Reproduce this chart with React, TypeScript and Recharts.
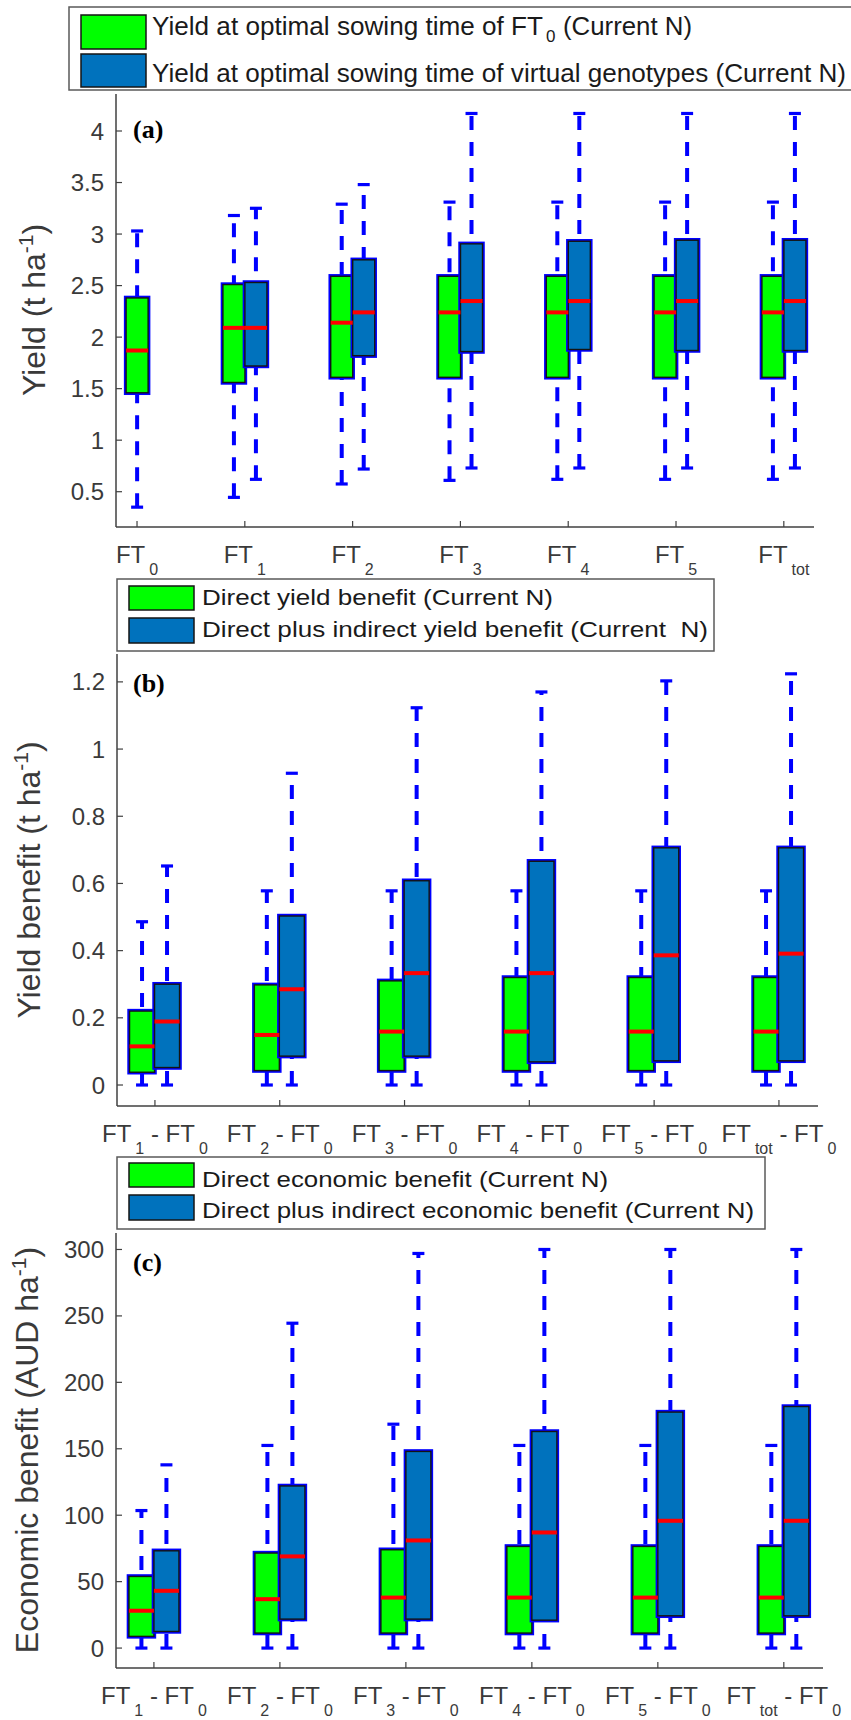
import React from "react";
import { Bar, ComposedChart, XAxis, YAxis } from "recharts";

const SANS = "'Liberation Sans', Arial, Helvetica, sans-serif";
const SERIF = "'Liberation Serif', 'Times New Roman', serif";
const GREEN = "#00ff00";
const BLUE = "#0072bd";
const WHISK = "#0000ff";
const MED = "#ff0000";
const AXIS = "#404040";
const TEXT = "#3a3a3a";

// (a) yield at optimal sowing time (t/ha)
const ftA = ["0", "1", "2", "3", "4", "5", "tot"];
const ft0Stats = [0.35, 1.46, 1.87, 2.38, 3.03]; // min, q1, median, q3, max
const aGreenMin = [0.445, 0.575, 0.61, 0.62, 0.62, 0.62];
const aGreenQ1 = [1.56, 1.61, 1.61, 1.61, 1.61, 1.61];
const aGreenMed = [2.09, 2.14, 2.24, 2.24, 2.24, 2.24];
const aGreenQ3 = [2.51, 2.59, 2.59, 2.59, 2.59, 2.59];
const aGreenMax = [3.18, 3.29, 3.31, 3.31, 3.31, 3.31];
const aBlueMin = [0.62, 0.72, 0.73, 0.73, 0.73, 0.73];
const aBlueQ1 = [1.72, 1.82, 1.86, 1.88, 1.87, 1.87];
const aBlueMed = [2.09, 2.24, 2.35, 2.35, 2.35, 2.35];
const aBlueQ3 = [2.53, 2.75, 2.905, 2.93, 2.94, 2.94];
const aBlueMax = [3.25, 3.48, 4.17, 4.17, 4.17, 4.17];
const aTicks = [0.5, 1, 1.5, 2, 2.5, 3, 3.5, 4];

// (b) yield benefit (t/ha)
const ftDiff = ["1", "2", "3", "4", "5", "tot"];
const bGreenMin = [0, 0, 0, 0, 0, 0];
const bGreenQ1 = [0.038, 0.043, 0.043, 0.043, 0.043, 0.043];
const bGreenMed = [0.115, 0.149, 0.159, 0.159, 0.159, 0.159];
const bGreenQ3 = [0.22, 0.298, 0.31, 0.32, 0.32, 0.32];
const bGreenMax = [0.486, 0.578, 0.578, 0.578, 0.578, 0.578];
const bBlueMin = [0, 0, 0, 0, 0, 0];
const bBlueQ1 = [0.052, 0.086, 0.086, 0.069, 0.072, 0.072];
const bBlueMed = [0.189, 0.285, 0.333, 0.333, 0.386, 0.391];
const bBlueQ3 = [0.3, 0.503, 0.608, 0.666, 0.706, 0.706];
const bBlueMax = [0.652, 0.928, 1.123, 1.17, 1.203, 1.224];
const bTicks = [0, 0.2, 0.4, 0.6, 0.8, 1, 1.2];

// (c) economic benefit (AUD/ha)
const cGreenMin = [0, 0, 0, 0, 0, 0];
const cGreenQ1 = [8.8, 11.3, 11.3, 11.3, 11.3, 11.3];
const cGreenMed = [28.1, 36.8, 38, 38, 38, 38];
const cGreenQ3 = [53.9, 71.5, 74, 76.5, 76.5, 76.5];
const cGreenMax = [103.5, 152.5, 168.5, 152.5, 152.5, 152.5];
const cBlueMin = [0, 0, 0, 0, 0, 0];
const cBlueQ1 = [12.5, 21.8, 21.8, 21, 24.3, 24.3];
const cBlueMed = [43.1, 69, 81, 87, 95.8, 95.8];
const cBlueQ3 = [73.2, 122, 148, 163, 177.6, 181.8];
const cBlueMax = [137.9, 244.5, 297, 300, 300, 300];
const cTicks = [0, 50, 100, 150, 200, 250, 300];

type Stats = { min: number; q1: number; med: number; q3: number; max: number };
type Row = { pos: number; solo: Stats | null; g: Stats | null; b: Stats | null };

const pick = (mn: number[], q1: number[], md: number[], q3: number[], mx: number[], i: number): Stats => ({
  min: mn[i],
  q1: q1[i],
  med: md[i],
  q3: q3[i],
  max: mx[i],
});

const rowsA: Row[] = ftA.map((_, i) => ({
  pos: i + 1,
  solo: i === 0 ? pick([ft0Stats[0]], [ft0Stats[1]], [ft0Stats[2]], [ft0Stats[3]], [ft0Stats[4]], 0) : null,
  g: i > 0 ? pick(aGreenMin, aGreenQ1, aGreenMed, aGreenQ3, aGreenMax, i - 1) : null,
  b: i > 0 ? pick(aBlueMin, aBlueQ1, aBlueMed, aBlueQ3, aBlueMax, i - 1) : null,
}));

const rowsB: Row[] = ftDiff.map((_, i) => ({
  pos: i + 1,
  solo: null,
  g: pick(bGreenMin, bGreenQ1, bGreenMed, bGreenQ3, bGreenMax, i),
  b: pick(bBlueMin, bBlueQ1, bBlueMed, bBlueQ3, bBlueMax, i),
}));

const rowsC: Row[] = ftDiff.map((_, i) => ({
  pos: i + 1,
  solo: null,
  g: pick(cGreenMin, cGreenQ1, cGreenMed, cGreenQ3, cGreenMax, i),
  b: pick(cBlueMin, cBlueQ1, cBlueMed, cBlueQ3, cBlueMax, i),
}));

type Key = "solo" | "g" | "b";

const span = (key: Key, lo: keyof Stats, hi: keyof Stats) => (d: Row) => {
  const s = d[key];
  return s ? [s[lo], s[hi]] : null;
};

const whiskerShape = (key: Key) => (p: any) => {
  if (!p.payload || !p.payload[key]) return <g />;
  const cx = p.x + p.width / 2;
  const top = Math.min(p.y, p.y + p.height);
  const bot = Math.max(p.y, p.y + p.height);
  return (
    <g>
      <line x1={cx} x2={cx} y1={bot} y2={top} stroke={WHISK} strokeWidth={4} strokeDasharray="14 12" />
      <line x1={cx - 6} x2={cx + 6} y1={top} y2={top} stroke={WHISK} strokeWidth={3.2} />
      <line x1={cx - 6} x2={cx + 6} y1={bot} y2={bot} stroke={WHISK} strokeWidth={3.2} />
    </g>
  );
};

const boxShape = (key: Key, fill: string) => (p: any) => {
  if (!p.payload || !p.payload[key]) return <g />;
  const top = Math.min(p.y, p.y + p.height);
  const h = Math.abs(p.height);
  return (
    <g>
      <rect x={p.x - 1} y={top - 1} width={p.width + 2} height={h + 2} fill="none" stroke={WHISK} strokeWidth={2.5} />
      <rect x={p.x} y={top} width={p.width} height={h} fill={fill} stroke="#141414" strokeWidth={1.4} />
    </g>
  );
};

// bar spans q1..median, so its top edge sits on the median
const medianShape = (key: Key) => (p: any) => {
  if (!p.payload || !p.payload[key]) return <g />;
  return <line x1={p.x} x2={p.x + p.width} y1={p.y} y2={p.y} stroke={MED} strokeWidth={4} />;
};

function FtTick(props: any) {
  const { x, y, payload, subs, diff } = props;
  const sub = subs[Math.round(payload.value) - 1];
  if (sub === undefined) return <g />;
  return (
    <text x={x} y={y + 36} textAnchor="middle" fill={TEXT} fontFamily={SANS} fontSize={24} style={{ whiteSpace: "pre" }}>
      <tspan>FT</tspan>
      <tspan dx={4} dy={12} fontSize={16}>{sub}</tspan>
      {diff ? <tspan dy={-12}> - FT</tspan> : null}
      {diff ? <tspan dx={4} dy={12} fontSize={16}>0</tspan> : null}
    </text>
  );
}

interface PanelProps {
  rows: Row[];
  top: number;
  height: number;
  margin: { top: number; right: number; bottom: number; left: number };
  xDomain: [number, number];
  yDomain: [number, number];
  yTicks: number[];
  barSize: number;
  subs: string[];
  diff: boolean;
}

function Panel({ rows, top, height, margin, xDomain, yDomain, yTicks, barSize, subs, diff }: PanelProps) {
  const xTicks = rows.map((r) => r.pos);
  const xCommon = {
    type: "number" as const,
    dataKey: "pos",
    domain: xDomain,
    ticks: xTicks,
    allowDataOverflow: true,
    interval: 0 as const,
  };
  const hasSolo = rows.some((r) => r.solo);
  return (
    <div style={{ position: "absolute", left: 0, top }}>
      <ComposedChart width={851} height={height} data={rows} margin={margin} barGap={0}>
        <XAxis
          xAxisId="main"
          {...xCommon}
          orientation="bottom"
          height={40}
          tickSize={-6}
          tickMargin={6}
          axisLine={{ stroke: AXIS, strokeWidth: 1.5 }}
          tickLine={{ stroke: AXIS, strokeWidth: 1.2 }}
          tick={(p: any) => <FtTick {...p} subs={subs} diff={diff} />}
        />
        <XAxis
          xAxisId="top"
          {...xCommon}
          orientation="top"
          height={0}
          tickSize={-6}
          tick={false}
          axisLine={{ stroke: AXIS, strokeWidth: 1.5 }}
          tickLine={{ stroke: AXIS, strokeWidth: 1.2 }}
        />
        <XAxis xAxisId="whisk" {...xCommon} hide />
        <XAxis xAxisId="med" {...xCommon} hide />
        {hasSolo ? <XAxis xAxisId="soloW" {...xCommon} hide /> : null}
        {hasSolo ? <XAxis xAxisId="soloB" {...xCommon} hide /> : null}
        {hasSolo ? <XAxis xAxisId="soloM" {...xCommon} hide /> : null}
        <YAxis
          yAxisId="l"
          domain={yDomain}
          ticks={yTicks}
          allowDataOverflow
          interval={0}
          width={60}
          tickSize={-6}
          tickMargin={18}
          axisLine={{ stroke: AXIS, strokeWidth: 1.5 }}
          tickLine={{ stroke: AXIS, strokeWidth: 1.2 }}
          tick={{ fill: TEXT, fontSize: 24, fontFamily: SANS }}
        />
        <YAxis
          yAxisId="r"
          orientation="right"
          domain={yDomain}
          ticks={yTicks}
          allowDataOverflow
          interval={0}
          width={0}
          tickSize={-6}
          tick={false}
          axisLine={{ stroke: AXIS, strokeWidth: 1.5 }}
          tickLine={{ stroke: AXIS, strokeWidth: 1.2 }}
        />

        {hasSolo ? (
          <Bar xAxisId="soloW" yAxisId="l" dataKey={span("solo", "min", "max")} barSize={barSize} shape={whiskerShape("solo")} isAnimationActive={false} />
        ) : null}
        <Bar xAxisId="whisk" yAxisId="l" dataKey={span("g", "min", "max")} barSize={barSize} shape={whiskerShape("g")} isAnimationActive={false} />
        <Bar xAxisId="whisk" yAxisId="l" dataKey={span("b", "min", "max")} barSize={barSize} shape={whiskerShape("b")} isAnimationActive={false} />

        {hasSolo ? (
          <Bar xAxisId="soloB" yAxisId="l" dataKey={span("solo", "q1", "q3")} barSize={barSize} shape={boxShape("solo", GREEN)} isAnimationActive={false} />
        ) : null}
        <Bar xAxisId="main" yAxisId="l" dataKey={span("g", "q1", "q3")} barSize={barSize} shape={boxShape("g", GREEN)} isAnimationActive={false} />
        <Bar xAxisId="main" yAxisId="l" dataKey={span("b", "q1", "q3")} barSize={barSize} shape={boxShape("b", BLUE)} isAnimationActive={false} />

        {hasSolo ? (
          <Bar xAxisId="soloM" yAxisId="l" dataKey={span("solo", "q1", "med")} barSize={barSize} shape={medianShape("solo")} isAnimationActive={false} />
        ) : null}
        <Bar xAxisId="med" yAxisId="l" dataKey={span("g", "q1", "med")} barSize={barSize} shape={medianShape("g")} isAnimationActive={false} />
        <Bar xAxisId="med" yAxisId="l" dataKey={span("b", "q1", "med")} barSize={barSize} shape={medianShape("b")} isAnimationActive={false} />
      </ComposedChart>
    </div>
  );
}

function LegendBox(props: {
  x: number; y: number; w: number; h: number;
  sw: [number, number][];
  lines: React.ReactNode[];
}) {
  const { x, y, w, h, sw, lines } = props;
  return (
    <g>
      <rect x={x} y={y} width={w} height={h} fill="#fff" stroke="#5a5a5a" strokeWidth={1.5} />
      <rect x={x + 12} y={sw[0][0]} width={65} height={sw[0][1]} fill={GREEN} stroke="#141414" strokeWidth={1.5} />
      <rect x={x + 12} y={sw[1][0]} width={65} height={sw[1][1]} fill={BLUE} stroke="#141414" strokeWidth={1.5} />
      {lines}
    </g>
  );
}

function YTitle({ x, y, main, unit }: { x: number; y: number; main: string; unit: string }) {
  return (
    <text
      x={x}
      y={y}
      transform={`rotate(-90 ${x} ${y})`}
      textAnchor="middle"
      fill={TEXT}
      fontFamily={SANS}
      fontSize={32}
      style={{ whiteSpace: "pre" }}
    >
      <tspan>{main + " (" + unit + " ha"}</tspan>
      <tspan dy={-12} fontSize={21}>-1</tspan>
      <tspan dy={12}>)</tspan>
    </text>
  );
}

const lt = { fill: "#1a1a1a", fontFamily: SANS, lengthAdjust: "spacingAndGlyphs" as const };

export default function App() {
  return (
    <div style={{ position: "absolute", left: 0, top: 0, width: 851, height: 1720, background: "#fff", overflow: "hidden" }}>
      <Panel
        rows={rowsA}
        top={0}
        height={592}
        margin={{ top: 94, right: 37, bottom: 25, left: 56 }}
        xDomain={[0.805, 7.28]}
        yDomain={[0.1575, 4.359]}
        yTicks={aTicks}
        barSize={22}
        subs={ftA}
        diff={false}
      />
      <Panel
        rows={rowsB}
        top={575}
        height={592}
        margin={{ top: 79, right: 33, bottom: 21, left: 57 }}
        xDomain={[0.696, 6.313]}
        yDomain={[-0.0625, 1.283]}
        yTicks={bTicks}
        barSize={25}
        subs={ftDiff}
        diff
      />
      <Panel
        rows={rowsC}
        top={1155}
        height={565}
        margin={{ top: 78, right: 28, bottom: 12, left: 56 }}
        xDomain={[0.699, 6.311]}
        yDomain={[-15, 312.4]}
        yTicks={cTicks}
        barSize={25}
        subs={ftDiff}
        diff
      />

      <svg width={851} height={1720} style={{ position: "absolute", left: 0, top: 0, pointerEvents: "none" }}>
        <LegendBox
          x={69} y={7} w={800} h={83} sw={[[15, 34], [54, 33]]}
          lines={[
            <text key="a1" x={152} y={35} fontSize={25} textLength={391} {...lt}>Yield at optimal sowing time of FT</text>,
            <text key="a2" x={546} y={42} fontSize={17} {...lt}>0</text>,
            <text key="a3" x={563} y={35} fontSize={25} textLength={129} {...lt}>(Current N)</text>,
            <text key="a4" x={152} y={82} fontSize={25} textLength={694} {...lt}>Yield at optimal sowing time of virtual genotypes (Current N)</text>,
          ]}
        />
        <LegendBox
          x={117} y={579} w={597} h={72} sw={[[586, 24], [618, 25]]}
          lines={[
            <text key="b1" x={202} y={605} fontSize={22} textLength={351} {...lt}>Direct yield benefit (Current N)</text>,
            <text key="b2" x={202} y={637} fontSize={22} textLength={506} {...lt} style={{ whiteSpace: "pre" }}>Direct plus indirect yield benefit (Current  N)</text>,
          ]}
        />
        <LegendBox
          x={117} y={1157} w={648} h={72} sw={[[1163, 24], [1195, 25]]}
          lines={[
            <text key="c1" x={202} y={1187} fontSize={22} textLength={406} {...lt}>Direct economic benefit (Current N)</text>,
            <text key="c2" x={202} y={1218} fontSize={22} textLength={552} {...lt}>Direct plus indirect economic benefit (Current N)</text>,
          ]}
        />

        <text x={133} y={138} fontFamily={SERIF} fontWeight="bold" fontSize={26} fill="#000">(a)</text>
        <text x={133} y={692} fontFamily={SERIF} fontWeight="bold" fontSize={26} fill="#000">(b)</text>
        <text x={133} y={1271} fontFamily={SERIF} fontWeight="bold" fontSize={26} fill="#000">(c)</text>

        <YTitle x={45} y={310} main="Yield" unit="t" />
        <YTitle x={40} y={880} main="Yield benefit" unit="t" />
        <YTitle x={38} y={1450} main="Economic benefit" unit="AUD" />
      </svg>
    </div>
  );
}
